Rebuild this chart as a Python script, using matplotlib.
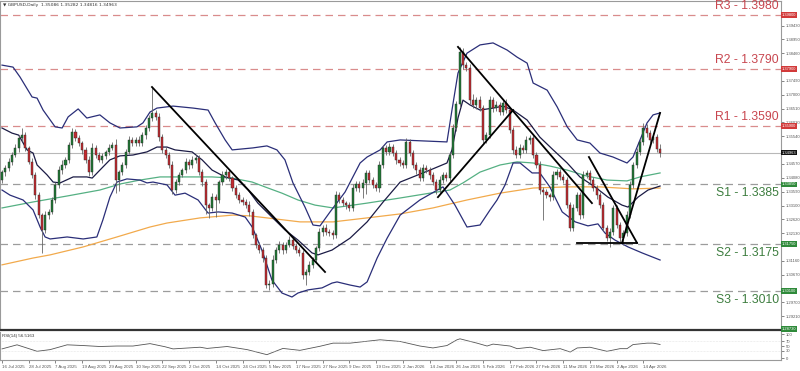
import matplotlib
matplotlib.use('Agg')
import matplotlib.pyplot as plt

plt.rcParams['font.family'] = ['Liberation Sans', 'DejaVu Sans']

# daily closes, GBPUSD, 16 Jul 2025 .. 21 Apr 2026
closes = [
    1.3428, 1.3442, 1.3464, 1.3488, 1.3513, 1.3548, 1.3558, 1.3513, 1.3464, 1.3418,
    1.3347, 1.3277, 1.3225, 1.3277, 1.3288, 1.3330, 1.3383, 1.3435, 1.3453, 1.3471,
    1.3523, 1.3569, 1.3548, 1.3530, 1.3506, 1.3471, 1.3428, 1.3513, 1.3488, 1.3471,
    1.3485, 1.3499, 1.3513, 1.3523, 1.3400, 1.3428, 1.3453, 1.3499, 1.3541, 1.3530,
    1.3541, 1.3530, 1.3558, 1.3583, 1.3618, 1.3636, 1.3622, 1.3551, 1.3506, 1.3488,
    1.3453, 1.3365, 1.3393, 1.3418, 1.3435, 1.3464, 1.3453, 1.3471, 1.3478, 1.3428,
    1.3393, 1.3312, 1.3302, 1.3340, 1.3330, 1.3393, 1.3418, 1.3428, 1.3407, 1.3372,
    1.3347, 1.3330, 1.3323, 1.3312, 1.3288, 1.3207, 1.3172, 1.3154, 1.3126, 1.3031,
    1.3036, 1.3119, 1.3154, 1.3172, 1.3154, 1.3172, 1.3189, 1.3168, 1.3154, 1.3144,
    1.3066, 1.3077, 1.3102, 1.3119, 1.3161, 1.3218, 1.3232, 1.3218, 1.3214, 1.3207,
    1.3347, 1.3330, 1.3319, 1.3312, 1.3302, 1.3372, 1.3386, 1.3372, 1.3390, 1.3425,
    1.3400, 1.3383, 1.3372, 1.3453, 1.3513, 1.3499, 1.3516, 1.3495, 1.3471, 1.3460,
    1.3453, 1.3534, 1.3495, 1.3453, 1.3435, 1.3407, 1.3442, 1.3435, 1.3418, 1.3393,
    1.3365, 1.3400, 1.3418, 1.3407, 1.3488, 1.3583, 1.3667, 1.3850, 1.3804, 1.3794,
    1.3681, 1.3664, 1.3681, 1.3653, 1.3541, 1.3558, 1.3681, 1.3653, 1.3664, 1.3639,
    1.3671, 1.3646, 1.3576, 1.3506, 1.3488, 1.3513, 1.3506, 1.3541, 1.3548, 1.3488,
    1.3453, 1.3365, 1.3358, 1.3347, 1.3340, 1.3418, 1.3428, 1.3411, 1.3400, 1.3312,
    1.3232, 1.3302, 1.3347, 1.3277, 1.3418, 1.3425, 1.3400, 1.3372, 1.3347, 1.3312,
    1.3232, 1.3196, 1.3218, 1.3302, 1.3242, 1.3196, 1.3214, 1.3277, 1.3383, 1.3453,
    1.3499, 1.3534, 1.3583, 1.3565, 1.3541, 1.3551, 1.3509, 1.34963,
]
first_open = 1.3400

# wick lengths in pips above the body / below the body
up_wick = [
    8, 10, 12, 9, 14, 11, 25, 10, 8, 12,
    9, 11, 7, 15, 10, 12, 9, 13, 18, 10,
    12, 14, 9, 11, 8, 10, 12, 16, 9, 11,
    10, 8, 13, 12, 20, 9, 11, 10, 15, 12,
    9, 14, 10, 12, 11, 91, 10, 15, 12, 9,
    11, 14, 10, 12, 9, 13, 10, 15, 11, 9,
    12, 10, 9, 14, 11, 8, 13, 10, 12, 9,
    11, 10, 12, 9, 13, 10, 8, 12, 11, 9,
    12, 16, 10, 14, 9, 11, 13, 10, 12, 9,
    10, 12, 14, 11, 9, 13, 10, 12, 9, 11,
    13, 10, 12, 9, 11, 14, 10, 12, 15, 11,
    10, 12, 9, 13, 11, 10, 14, 9, 12, 10,
    11, 15, 10, 12, 9, 11, 14, 10, 12, 9,
    10, 13, 11, 12, 10, 14, 12, 18, 15, 12,
    13, 20, 11, 14, 10, 12, 16, 11, 13, 10,
    12, 14, 11, 10, 13, 12, 10, 14, 11, 12,
    10, 13, 11, 12, 9, 14, 10, 12, 11, 9,
    10, 13, 12, 11, 14, 10, 12, 9, 11, 10,
    12, 10, 13, 11, 12, 9, 10, 14, 12, 11,
    13, 12, 18, 14, 12, 15, 10, 19,
]
low_wick = [
    10, 12, 9, 11, 8, 13, 10, 12, 9, 11,
    13, 10, 81, 12, 14, 9, 11, 10, 13, 9,
    11, 10, 12, 9, 13, 11, 14, 10, 12, 9,
    10, 12, 11, 9, 45, 40, 10, 12, 9, 11,
    12, 10, 9, 13, 10, 11, 12, 14, 10, 12,
    11, 13, 10, 12, 9, 11, 14, 10, 12, 11,
    13, 30, 35, 12, 60, 11, 10, 13, 9, 12,
    10, 12, 11, 9, 13, 10, 12, 11, 14, 10,
    17, 12, 11, 10, 13, 12, 9, 11, 12, 10,
    13, 35, 10, 12, 11, 9, 13, 10, 12, 14,
    10, 12, 11, 13, 9, 12, 10, 14, 35, 40,
    11, 12, 10, 13, 9, 11, 12, 10, 13, 11,
    12, 10, 11, 9, 13, 12, 10, 11, 14, 12,
    15, 11, 10, 12, 9, 11, 12, 10, 13, 11,
    12, 10, 14, 11, 12, 10, 11, 13, 10, 12,
    11, 10, 12, 13, 9, 11, 12, 10, 14, 11,
    12, 13, 98, 11, 12, 10, 13, 11, 12, 10,
    11, 12, 10, 13, 11, 12, 9, 10, 12, 11,
    12, 10, 31, 11, 12, 13, 24, 10, 12, 11,
    10, 12, 11, 13, 10, 12, 11, 15,
]

# indicator lines: (candle index, price)
bb_upper = [(0, 1.3804), (3.3, 1.3797), (5.4, 1.3762), (9, 1.3692), (10.5, 1.3688), (12.3, 1.3646),
            (15.9, 1.3587), (18, 1.3583), (19.8, 1.3622), (22.8, 1.3650), (25.4, 1.3618), (29.3, 1.3629),
            (32.3, 1.3601), (35.3, 1.3583), (40.4, 1.3587), (42.2, 1.3601), (44.3, 1.3639), (46.4, 1.3653),
            (51.2, 1.3660), (57.2, 1.3653), (61.7, 1.3646), (63.8, 1.3601), (66.8, 1.3541), (68.9, 1.3506),
            (75.1, 1.3513), (79.3, 1.3520), (82.3, 1.3506), (84.7, 1.3471), (87.1, 1.3390), (90.7, 1.3305),
            (93.1, 1.3242), (95.2, 1.3239), (98.2, 1.3288), (102.7, 1.3358), (107.2, 1.3460), (109.3, 1.3481),
            (113.2, 1.3506), (115.3, 1.3534), (119.2, 1.3541), (133.2, 1.3534), (134.7, 1.3646),
            (136.5, 1.3776), (139.2, 1.3846), (143.1, 1.3875), (147, 1.3882), (151.2, 1.3857),
            (154.2, 1.3832), (157.2, 1.3811), (159, 1.3741), (163.2, 1.3716), (166.2, 1.3657),
            (169.2, 1.3587), (172.2, 1.3541), (176, 1.3530), (179, 1.3495), (182.9, 1.3481),
            (187.1, 1.3460), (188.9, 1.3481), (191, 1.3541), (193.1, 1.3601), (194.9, 1.3629), (197, 1.3636)]
bb_mid = [(0, 1.3583), (3, 1.3565), (5, 1.3558), (7.5, 1.3506), (9.3, 1.3495), (10.5, 1.3453),
          (13.5, 1.3418), (15.3, 1.3393), (17.4, 1.3390), (21.3, 1.3411), (25.4, 1.3411), (27, 1.3407),
          (29.3, 1.3435), (32.3, 1.3471), (35.3, 1.3485), (39.2, 1.3488), (43.4, 1.3499), (46.4, 1.3516),
          (49.4, 1.3516), (51.8, 1.3506), (56.9, 1.3499), (59.9, 1.3471), (62.9, 1.3435), (66.8, 1.3411),
          (70.7, 1.3400), (73.7, 1.3365), (76.6, 1.3319), (80.8, 1.3270), (84.7, 1.3225), (88.6, 1.3189),
          (92.8, 1.3144), (94.6, 1.3137), (98.8, 1.3154), (104.2, 1.3196), (109.3, 1.3253), (114.1, 1.3323),
          (119.2, 1.3393), (128.1, 1.3435), (133.2, 1.3460), (134.7, 1.3506), (136.5, 1.3618),
          (138, 1.3681), (140.1, 1.3664), (143.1, 1.3646), (147, 1.3653), (150, 1.3660), (153, 1.3646),
          (157.2, 1.3611), (161, 1.3551), (165, 1.3506), (169.2, 1.3460), (173, 1.3411), (177.5, 1.3376),
          (181.4, 1.3340), (185.6, 1.3312), (187.4, 1.3305), (190.4, 1.3340), (193.4, 1.3365), (197, 1.3379)]
bb_lower = [(0, 1.3365), (2.4, 1.3347), (6.3, 1.3330), (9.3, 1.3295), (11.4, 1.3235), (12.9, 1.3200),
            (14.4, 1.3193), (19.5, 1.3200), (24.3, 1.3193), (28.4, 1.3200), (30.2, 1.3260), (32.3, 1.3340),
            (34.4, 1.3393), (37.4, 1.3404), (41.3, 1.3400), (43.4, 1.3390), (45.2, 1.3393), (49.4, 1.3383),
            (51.8, 1.3347), (54.8, 1.3354), (58.7, 1.3330), (61.7, 1.3284), (64.7, 1.3288), (68.9, 1.3284),
            (72.8, 1.3270), (74.9, 1.3235), (77.8, 1.3154), (80.8, 1.3049), (83.8, 1.3003), (86.8, 1.2989),
            (88.6, 1.3003), (91.6, 1.3014), (95.8, 1.3021), (98.8, 1.3038), (100.3, 1.3042), (104.2, 1.3031),
            (107.2, 1.3024), (109.3, 1.3042), (112.3, 1.3126), (115.3, 1.3196), (119.2, 1.3277),
            (125.1, 1.3330), (132, 1.3376), (135.6, 1.3312), (139.2, 1.3235), (143.1, 1.3242),
            (146.1, 1.3295), (148.2, 1.3330), (150.6, 1.3383), (153, 1.3460), (155.1, 1.3460),
            (158.7, 1.3425), (161, 1.3425), (164, 1.3376), (167.7, 1.3288), (171.6, 1.3253),
            (175.4, 1.3239), (178.4, 1.3246), (180.5, 1.3214), (183.5, 1.3189), (187.4, 1.3165),
            (191.6, 1.3144), (197, 1.3119)]
ma_green = [(0, 1.3302), (9.3, 1.3323), (19.5, 1.3344), (29.3, 1.3365), (35.3, 1.3386), (41.3, 1.3400),
            (47.3, 1.3411), (54.8, 1.3411), (62.9, 1.3411), (68.9, 1.3407), (74.9, 1.3393), (78.7, 1.3376),
            (83.8, 1.3354), (88.6, 1.3330), (93.7, 1.3312), (99.1, 1.3302), (109.3, 1.3319), (119.2, 1.3337),
            (128.1, 1.3354), (134.1, 1.3365), (138, 1.3390), (143.1, 1.3428), (149.1, 1.3453),
            (154.2, 1.3464), (159, 1.3460), (164.1, 1.3449), (169.2, 1.3435), (175.1, 1.3414),
            (181.1, 1.3400), (187.1, 1.3397), (191, 1.3411), (197, 1.3425)]
ma_orange = [(0, 1.3102), (9.3, 1.3126), (14.4, 1.3137), (24.3, 1.3165), (34.4, 1.3200), (44.3, 1.3235),
             (49.4, 1.3249), (59.3, 1.3267), (69.2, 1.3277), (74.3, 1.3274), (79.3, 1.3267), (89.2, 1.3253),
             (99.1, 1.3253), (109.3, 1.3267), (119.2, 1.3281), (129, 1.3302), (139.2, 1.3330),
             (149.1, 1.3354), (159, 1.3372), (169.2, 1.3376), (179, 1.3376), (188.9, 1.3369), (197, 1.3372)]
rsi_line = [(0, 38), (4.5, 55), (10.5, 28), (14.4, 35), (19.5, 55), (24.3, 52), (29.3, 48), (34.4, 50),
            (39.2, 50), (44.3, 60), (48.8, 47), (51.2, 38), (59.3, 45), (61.4, 40), (67.4, 48), (73.4, 35),
            (79.3, 14), (84.1, 40), (89.2, 32), (95.2, 49), (99.1, 62), (104.2, 62), (113.2, 76),
            (119.2, 69), (125.1, 50), (129, 42), (133.2, 52), (136.2, 76), (137.1, 80), (142.2, 62),
            (145.2, 50), (147, 58), (152.1, 50), (154.2, 39), (158.1, 45), (162, 31), (167.1, 39),
            (170.1, 25), (172.2, 42), (176, 45), (181.1, 28), (185, 39), (187.1, 39), (188.9, 56),
            (193.1, 62), (194.9, 62), (197, 56.5)]

trend_lines = [
    [(44.9, 1.3727), (96.7, 1.3077)],
    [(130.5, 1.3340), (153, 1.3646)],
    [(136.5, 1.3868), (176.6, 1.3319)],
    [(175.7, 1.3481), (190.1, 1.3179)],
    [(172.2, 1.3179), (190.1, 1.3179)],
    [(185.6, 1.3179), (197, 1.3636)],
]

res_names = ['R3', 'R2', 'R1']
res_levels = [1.3980, 1.3790, 1.3590]
sup_names = ['S1', 'S2', 'S3']
sup_levels = [1.3385, 1.3175, 1.3010]
last_price = 1.34963
floor_price = 1.28730

date_labels = ['16 Jul 2025', '28 Jul 2025', '7 Aug 2025', '19 Aug 2025', '29 Aug 2025',
               '10 Sep 2025', '22 Sep 2025', '2 Oct 2025', '14 Oct 2025', '24 Oct 2025',
               '5 Nov 2025', '17 Nov 2025', '27 Nov 2025', '9 Dec 2025', '19 Dec 2025',
               '2 Jan 2026', '14 Jan 2026', '26 Jan 2026', '5 Feb 2026', '17 Feb 2026',
               '27 Feb 2026', '11 Mar 2026', '23 Mar 2026', '2 Apr 2026', '14 Apr 2026']
# scale labels that are not hidden behind a price box
price_ticks = [1.29210, 1.29700, 1.30670, 1.31160, 1.32130, 1.32620, 1.33100,
               1.33590, 1.34080, 1.34570, 1.35540, 1.36030, 1.36510, 1.37000, 1.37490,
               1.38460, 1.38950, 1.39430]

pip = 0.0001
n = len(closes)
idx = list(range(n))
opens = [first_open] + closes[:-1]
highs = [max(o, c) + u * pip for o, c, u in zip(opens, closes, up_wick)]
lows = [min(o, c) - w * pip for o, c, w in zip(opens, closes, low_wick)]

fig = plt.figure(figsize=(8, 3.71), dpi=100)
ax = fig.add_axes([0.0, 0.1092, 0.97625, 0.888])
rsi_ax = fig.add_axes([0.0, 0.0296, 0.97625, 0.0768], sharex=ax)


def price_box(lvl, text, fc):
    ax.text(1.0006, lvl, text, transform=ax.get_yaxis_transform(), fontsize=2.9,
            color='white', va='center', ha='left', clip_on=False, zorder=10,
            bbox=dict(boxstyle='square,pad=0.2', fc=fc, ec='none'))


# levels
for name, lvl in zip(res_names, res_levels):
    ax.axhline(lvl, color='#d98c8c', lw=0.9, ls=(0, (6, 4)), zorder=1)
    ax.annotate(f'{name} - {lvl:.4f}', xy=(0.9975, lvl), xycoords=ax.get_yaxis_transform(),
                xytext=(0, 2), textcoords='offset points', ha='right', va='bottom',
                fontsize=8.8, color='#c8464f')
    price_box(lvl, f'{lvl:.5f}', '#d23a3a')
for name, lvl in zip(sup_names, sup_levels):
    ax.axhline(lvl, color='#9c9c9c', lw=0.9, ls=(0, (6, 4)), zorder=1)
    ax.annotate(f'{name} - {lvl:.4f}', xy=(0.9975, lvl), xycoords=ax.get_yaxis_transform(),
                xytext=(0, -2), textcoords='offset points', ha='right', va='top',
                fontsize=8.8, color='#3d7d3f')
    price_box(lvl, f'{lvl:.5f}', '#2f8a3a')
ax.axhline(last_price, color='#b8b8b8', lw=0.8, zorder=1)
price_box(last_price, f'{last_price:.5f}', '#111111')
price_box(floor_price + 0.0004, f'{floor_price:.5f}', '#2f8a3a')


def draw_line(a, pts, **kw):
    a.plot([p[0] for p in pts], [p[1] for p in pts], **kw)


# indicators
draw_line(ax, ma_orange, color='#f2aa4c', lw=0.9, zorder=2)
draw_line(ax, ma_green, color='#55b083', lw=0.9, zorder=2)
draw_line(ax, bb_upper, color='#2a2e78', lw=0.9, zorder=2)
draw_line(ax, bb_lower, color='#2a2e78', lw=0.9, zorder=2)
draw_line(ax, bb_mid, color='#1b1b45', lw=0.9, zorder=2)

# candles
colors = ['#1f7a35' if c >= o else '#c42a30' for o, c in zip(opens, closes)]
bottoms = [min(o, c) for o, c in zip(opens, closes)]
heights = [max(abs(c - o), 0.00012) for o, c in zip(opens, closes)]
ax.vlines(idx, lows, highs, color='#666666', lw=0.6, zorder=3)
ax.bar(idx, heights, bottom=bottoms, width=0.62, color=colors, edgecolor='#2a2a2a', lw=0.3, zorder=4)

for tl in trend_lines:
    draw_line(ax, tl, color='black', lw=1.3, zorder=5)

ax.set_xlim(-0.6, 233.2)
ax.set_ylim(1.28713, 1.40292)
ax.yaxis.tick_right()
ax.set_yticks(price_ticks)
ax.set_yticklabels([f'{t:.5f}' for t in price_ticks])
ax.tick_params(axis='y', labelsize=3.0, colors='#555555', length=2, width=0.5, pad=1.5)
ax.tick_params(axis='x', bottom=False, labelbottom=False)
for side in ['left', 'top', 'right']:
    ax.spines[side].set_color('#9a9a9a')
    ax.spines[side].set_linewidth(0.8)
ax.spines['bottom'].set_color('#333333')
ax.spines['bottom'].set_linewidth(1.6)
ax.text(0.004, 0.993, '\u25bc GBPUSD,Daily  1.35086 1.35282 1.34816 1.34963', transform=ax.transAxes,
        fontsize=3.2, color='#333333', va='top', ha='left', family=['DejaVu Sans'])

# RSI panel
draw_line(rsi_ax, rsi_line, color='#555555', lw=0.6)
for lvl in [30, 70]:
    rsi_ax.axhline(lvl, color='#cfcfcf', lw=0.4, ls=':')
rsi_ax.set_ylim(-8.3, 110.4)
rsi_ax.yaxis.tick_right()
rsi_ax.set_yticks([0, 30, 50, 70, 100])
rsi_ax.tick_params(axis='y', labelsize=3, colors='#555555', length=2, width=0.5, pad=1.5)
rsi_ax.set_xticks(list(range(0, n, 8)))
rsi_ax.set_xticklabels(date_labels, ha='left')
rsi_ax.tick_params(axis='x', labelsize=3.2, colors='#555555', length=2, width=0.5, pad=1.5)
for side in ['left', 'bottom', 'right']:
    rsi_ax.spines[side].set_color('#9a9a9a')
    rsi_ax.spines[side].set_linewidth(0.8)
rsi_ax.spines['top'].set_visible(False)
rsi_ax.text(0.003, 0.9, 'RSI(14) 56.5163', transform=rsi_ax.transAxes, fontsize=3.2,
            color='#333333', va='top', ha='left')

fig.savefig('out.png', dpi=100, facecolor='white')
